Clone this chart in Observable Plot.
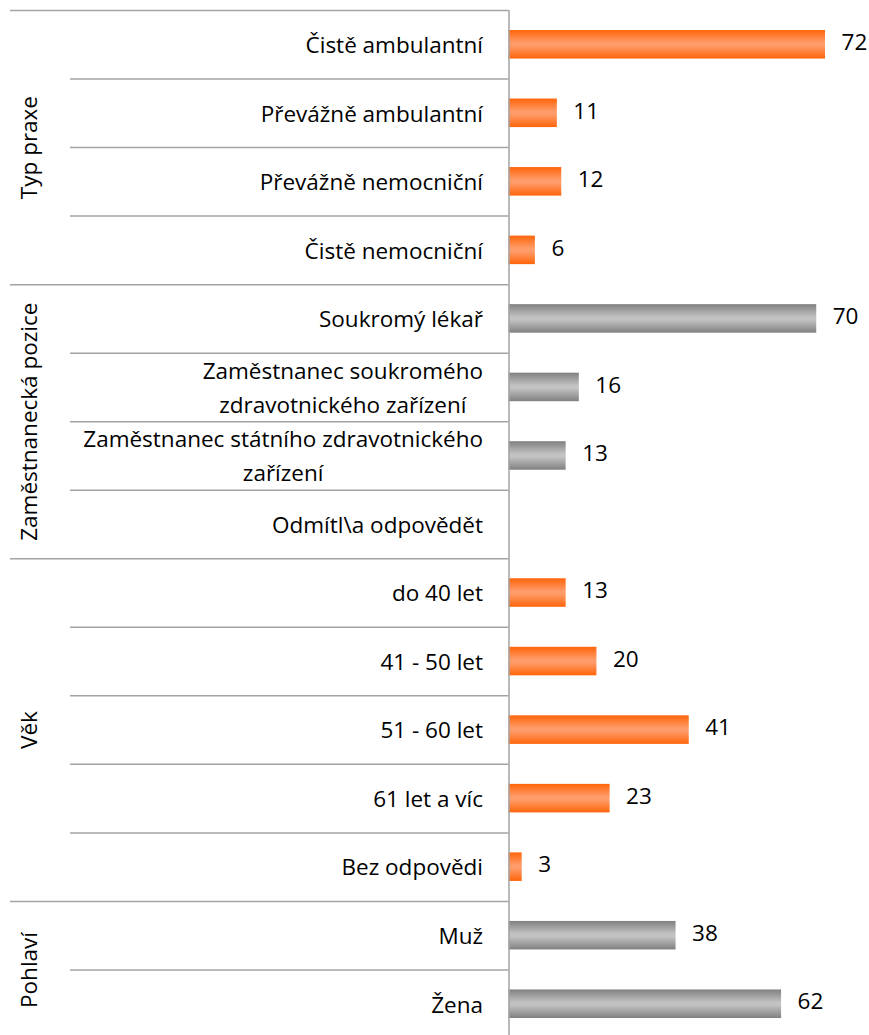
<!DOCTYPE html>
<html><head><meta charset="utf-8">
<script src="https://cdn.jsdelivr.net/npm/d3@7"></script>
<script src="https://cdn.jsdelivr.net/npm/@observablehq/plot@0.6"></script>
<style>body{margin:0;background:#fff} svg{display:block}</style>
</head><body><div id="chart"></div>
<script>
// ---- data ----
const groups = ["Typ praxe", "Zaměstnanecká pozice", "Věk", "Pohlaví"];
const groupSizes = [4, 4, 5, 2];
const categories = [
  "Čistě ambulantní",
  "Převážně ambulantní",
  "Převážně nemocniční",
  "Čistě nemocniční",
  "Soukromý lékař",
  "Zaměstnanec soukromého\nzdravotnického zařízení",
  "Zaměstnanec státního zdravotnického\nzařízení",
  "Odmítl\\a odpovědět",
  "do 40 let",
  "41 - 50 let",
  "51 - 60 let",
  "61 let a víc",
  "Bez odpovědi",
  "Muž",
  "Žena"
];
const values = [72, 11, 12, 6, 70, 16, 13, null, 13, 20, 41, 23, 3, 38, 62];

// ---- layout ----
const W = 869, H = 1038, TOP = 10;
const AXIS_X = 508.5, X_MAX = 82;
const band = (H - TOP) / categories.length;
const FONT = 22.5;
const LINE = "#a3a3a3";

const rows = [];
let k = 0;
groups.forEach((g, gi) => {
  for (let j = 0; j < groupSizes[gi]; j++) {
    rows.push({group: g, gi, category: categories[k], value: values[k], first: j === 0});
    k++;
  }
});
const withValue = rows.filter(d => d.value != null);
const orangeRows = withValue.filter(d => d.gi % 2 === 0);
const grayRows = withValue.filter(d => d.gi % 2 === 1);

const groupMarks = groups.map((g, gi) => {
  const first = rows.find(d => d.gi === gi).category;
  return Plot.text([g], {
    frameAnchor: "left", textAnchor: "middle", lineAnchor: "middle",
    y: () => first, text: d => d,
    rotate: -90, dx: 29, dy: band * (groupSizes[gi] - 1) / 2,
    fontSize: FONT, fill: "#000"
  });
});

const svg = Plot.plot({
  width: W, height: H,
  marginTop: TOP, marginBottom: 0, marginLeft: 0, marginRight: 0,
  style: {fontFamily: "'Open Sans', sans-serif", background: "#fff", color: "#000"},
  x: {domain: [0, X_MAX], range: [AXIS_X, W], axis: null},
  y: {domain: categories, padding: 0, round: false, axis: null},
  marks: [
    Plot.ruleY(rows.filter(d => d.first), {y: "category", dy: -band / 2, insetLeft: 10, insetRight: W - AXIS_X, stroke: LINE, strokeWidth: 1.5}),
    Plot.ruleY(rows.filter(d => !d.first), {y: "category", dy: -band / 2, insetLeft: 70, insetRight: W - AXIS_X, stroke: LINE, strokeWidth: 1.5}),
    Plot.barX(orangeRows, {x: "value", y: "category", fill: "url(#gOrange)", insetTop: 20, insetBottom: 20}),
    Plot.barX(grayRows, {x: "value", y: "category", fill: "url(#gGray)", insetTop: 20, insetBottom: 20}),
    Plot.ruleX([0], {stroke: LINE, strokeWidth: 1.5}),
    Plot.text(rows, {x: () => 0, y: "category", text: "category", textAnchor: "end", dx: -26, dy: -2.5, lineHeight: 1.5, fontSize: FONT, fill: "#000"}),
    Plot.text(withValue, {x: "value", y: "category", text: d => String(d.value), textAnchor: "start", dx: 16, dy: -2, fontSize: FONT, fill: "#000"}),
    ...groupMarks
  ]
});

document.getElementById("chart").appendChild(svg);

// gradients for the bars
const defs = d3.select(svg).insert("defs", ":first-child");
function grad(id, edge, mid) {
  const g = defs.append("linearGradient").attr("id", id)
    .attr("x1", 0).attr("y1", 0).attr("x2", 0).attr("y2", 1);
  g.append("stop").attr("offset", "0%").attr("stop-color", edge);
  g.append("stop").attr("offset", "45%").attr("stop-color", mid);
  g.append("stop").attr("offset", "55%").attr("stop-color", mid);
  g.append("stop").attr("offset", "100%").attr("stop-color", edge);
}
grad("gOrange", "#ff650a", "#ff9c6a");
grad("gGray", "#808080", "#c2c2c2");

// center the lines of multi-line category labels against each other
d3.select(svg).selectAll("text").each(function() {
  const spans = this.querySelectorAll("tspan");
  if (spans.length > 1) {
    let w = 0;
    spans.forEach(s => { w = Math.max(w, s.getComputedTextLength()); });
    this.setAttribute("text-anchor", "middle");
    spans.forEach(s => s.setAttribute("x", -w / 2));
  }
});
</script>
</body></html>
